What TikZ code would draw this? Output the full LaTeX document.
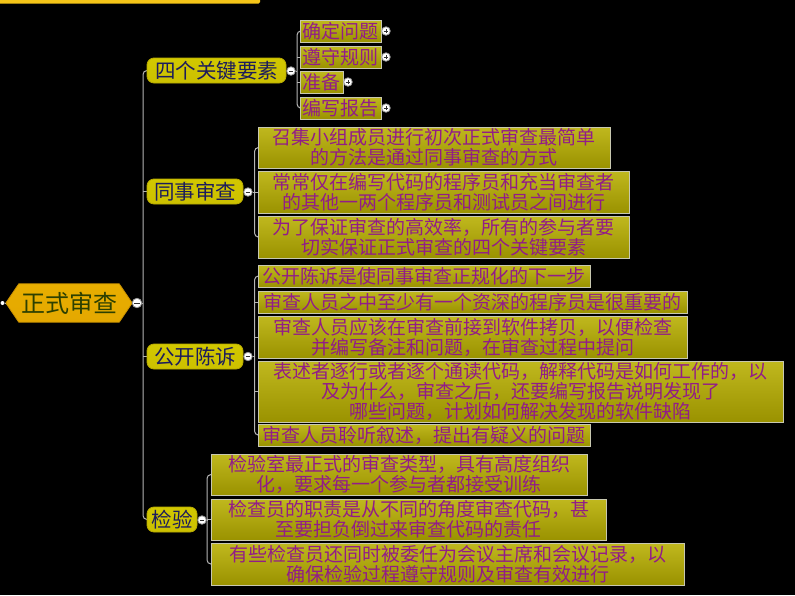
\documentclass[tikz,border=0pt]{standalone}
\usepackage{fontspec}
\setmainfont{Noto Sans CJK SC}
\usetikzlibrary{calc}
\definecolor{leafTop}{HTML}{C0B81E}
\definecolor{leafBot}{HTML}{9A9200}
\definecolor{leafBorder}{HTML}{C8C8B0}
\definecolor{leafText}{HTML}{921C88}
\definecolor{brTop}{HTML}{D2C800}
\definecolor{brMid}{HTML}{F6F040}
\definecolor{brBot}{HTML}{CCC000}
\definecolor{brBorder}{HTML}{B8AA00}
\definecolor{brText}{HTML}{1C1C5C}
\definecolor{rootTop}{HTML}{E8AE00}
\definecolor{rootMid}{HTML}{FAD828}
\definecolor{rootBot}{HTML}{E4A800}
\definecolor{rootBorder}{HTML}{C89000}
\definecolor{rootText}{HTML}{2C4000}
\definecolor{connColor}{HTML}{B4B4B4}
\definecolor{togBorder}{HTML}{9A9A9A}
\definecolor{togSign}{HTML}{303030}
\definecolor{barColor}{HTML}{F5C518}
\pgfdeclarelayer{back}
\pgfdeclarelayer{mid}
\pgfsetlayers{back,mid,main}
\begin{document}
\begin{tikzpicture}[x=1pt,y=-1pt,
  leaf/.style={draw=leafBorder, line width=1pt, top color=leafTop, bottom color=leafBot,
    text=leafText, font=\fontsize{19}{20}\selectfont, align=center, inner sep=0pt},
  branch/.style={draw=brBorder, line width=0.8pt, rounded corners=7pt, top color=brTop,
    middle color=brMid, bottom color=brBot, text=brText,
    font=\fontsize{20.5}{22}\selectfont, inner sep=0pt, minimum height=25pt},
  tog/.style={circle, draw=togBorder, fill=white, minimum size=8.5pt, inner sep=0pt, line width=0.8pt},
  togminus/.style={tog, path picture={\draw[line width=0.9pt,togSign]
    ([xshift=1.8pt]path picture bounding box.west) -- ([xshift=-1.8pt]path picture bounding box.east);}},
  togplus/.style={tog, path picture={\draw[line width=0.9pt,togSign]
    ([xshift=1.8pt]path picture bounding box.west) -- ([xshift=-1.8pt]path picture bounding box.east)
    ([yshift=1.8pt]path picture bounding box.south) -- ([yshift=-1.8pt]path picture bounding box.north);}},
  conn/.style={draw=connColor, line width=1pt},
  spine/.style={conn, rounded corners=4pt}]

\useasboundingbox (0,0) rectangle (795,595);
\begin{pgfonlayer}{back}
\fill[black] (0,0) rectangle (795,595);
\fill[barColor] (0,0) -- (260,0) -- (260,2) arc[start angle=0, end angle=-90, radius=1.5pt] -- (0,3.5) -- cycle;
\end{pgfonlayer}

% root
\node[minimum width=100pt, minimum height=38pt, inner sep=0pt, text=rootText,
  font=\fontsize{24}{26}\selectfont] (root) at (69,303) {正式审查};
\begin{pgfonlayer}{mid}
\path[draw=rootBorder, line width=0.8pt, top color=rootTop, middle color=rootMid, bottom color=rootBot]
  (root.north west) -- (root.north east) -- ($(root.east)+(13,0)$) -- (root.south east)
  -- (root.south west) -- ($(root.west)+(-13,0)$) -- cycle;
\end{pgfonlayer}
\node[circle, fill=white, minimum size=4pt, inner sep=0pt] (rootdot) at (2.5,303) {};
\node[togminus, minimum size=9.5pt] (troot) at (137,303) {};

% branches
\node[branch, minimum width=139pt] (k1) at (216.5,70.5) {四个关键要素};
\node[branch, minimum width=96pt] (k2) at (195,191.5) {同事审查};
\node[branch, minimum width=96pt] (k3) at (195,356.5) {公开陈诉};
\node[branch, minimum width=50pt] (k4) at (172,519.5) {检验};
\node[togminus] (t1) at (291,71) {};
\node[togminus] (t2) at (248,192) {};
\node[togminus] (t3) at (248,356.5) {};
\node[togminus] (t4) at (202,520) {};

% leaves of k1
\node[leaf, minimum width=81pt, minimum height=22pt] (a1) at (340.5,31) {确定问题};
\node[leaf, minimum width=81pt, minimum height=22pt] (a2) at (340.5,57) {遵守规则};
\node[leaf, minimum width=43pt, minimum height=22pt] (a3) at (321.5,82) {准备};
\node[leaf, minimum width=81pt, minimum height=22pt] (a4) at (340.5,108) {编写报告};
\node[togplus] (p1) at (386,31) {};
\node[togplus] (p2) at (386,57) {};
\node[togplus] (p3) at (348,82) {};
\node[togplus] (p4) at (386,108) {};

% leaves of k2
\node[leaf, minimum width=352pt, minimum height=41pt] (b1) at (434,147.5)
  {召集小组成员进行初次正式审查最简单\\的方法是通过同事审查的方式};
\node[leaf, minimum width=371pt, minimum height=42pt] (b2) at (443.5,192)
  {常常仅在编写代码的程序员和充当审查者\\的其他一两个程序员和测试员之间进行};
\node[leaf, minimum width=371pt, minimum height=42pt] (b3) at (443.5,237)
  {为了保证审查的高效率，所有的参与者要\\切实保证正式审查的四个关键要素};

% leaves of k3
\node[leaf, minimum width=332pt, minimum height=22pt] (c1) at (424,276)
  {公开陈诉是使同事审查正规化的下一步};
\node[leaf, minimum width=429pt, minimum height=22pt] (c2) at (472.5,302)
  {审查人员之中至少有一个资深的程序员是很重要的};
\node[leaf, minimum width=429pt, minimum height=42pt] (c3) at (472.5,337)
  {审查人员应该在审查前接到软件拷贝，以便检查\\并编写备注和问题，在审查过程中提问};
\node[leaf, minimum width=525pt, minimum height=61pt] (c4) at (520.5,391.5)
  {表述者逐行或者逐个通读代码，解释代码是如何工作的，以\\及为什么，审查之后，还要编写报告说明发现了\\哪些问题，计划如何解决发现的软件缺陷};
\node[leaf, minimum width=332pt, minimum height=22pt] (c5) at (424,435)
  {审查人员聆听叙述，提出有疑义的问题};

% leaves of k4
\node[leaf, minimum width=376pt, minimum height=41pt] (d1) at (399,474.5)
  {检验室最正式的审查类型，具有高度组织\\化，要求每一个参与者都接受训练};
\node[leaf, minimum width=395pt, minimum height=41pt] (d2) at (408.5,519.5)
  {检查员的职责是从不同的角度审查代码，甚\\至要担负倒过来审查代码的责任};
\node[leaf, minimum width=473pt, minimum height=42pt] (d3) at (447.5,564)
  {有些检查员还同时被委任为会议主席和会议记录，以\\确保检验过程遵守规则及审查有效进行};

% spine coordinates
\coordinate (s0) at (143,303);
\coordinate (s1) at (297,71);
\coordinate (s2) at (254.5,192);
\coordinate (s3) at (254.5,356.5);
\coordinate (s4) at (207,520);

\begin{pgfonlayer}{mid}
% root connectors
\draw[conn] (rootdot) -- ($(root.west)+(-13,0)$);
\draw[conn] (troot) -- (s0);
\draw[spine] (k1.west) -| (s0) |- (k4.west);
\draw[conn] (k2.west) -- (k2.west -| s0);
\draw[conn] (k3.west) -- (k3.west -| s0);
% k1
\draw[conn] (t1) -- (s1);
\draw[spine] (a1.west) -| (s1) |- (a4.west);
\draw[conn] (a2.west) -- (a2.west -| s1);
\draw[conn] (a3.west) -- (a3.west -| s1);
% k2
\draw[conn] (t2) -- (s2);
\draw[spine] (b1.west) -| (s2) |- (b3.west);
\draw[conn] (b2.west) -- (b2.west -| s2);
% k3
\draw[conn] (t3) -- (s3);
\draw[spine] (c1.west) -| (s3) |- (c5.west);
\draw[conn] (c2.west) -- (c2.west -| s3);
\draw[conn] (c3.west) -- (c3.west -| s3);
\draw[conn] (c4.west) -- (c4.west -| s3);
% k4
\draw[conn] (t4) -- (s4);
\draw[spine] (d1.west) -| (s4) |- (d3.west);
\draw[conn] (d2.west) -- (d2.west -| s4);
\end{pgfonlayer}
\end{tikzpicture}
\end{document}
